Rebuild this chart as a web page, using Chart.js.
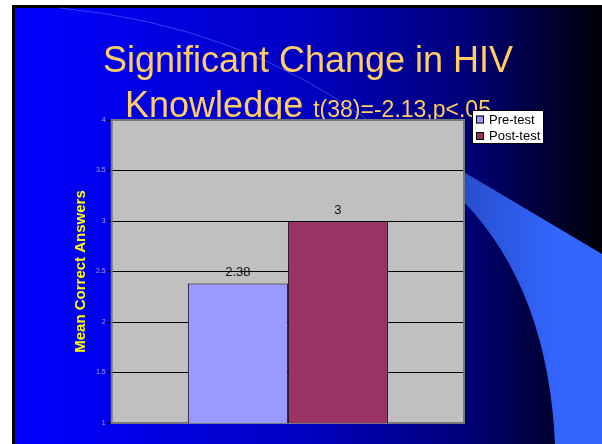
<!DOCTYPE html>
<html>
<head>
<meta charset="utf-8">
<script src="https://cdn.jsdelivr.net/npm/chart.js@4"></script>
<style>
  html, body { margin: 0; padding: 0; background: #fff; }
</style>
</head>
<body>
<canvas id="myChart" width="602" height="444"></canvas>
<script>
const categories = [''];
const seriesNames = ['Pre-test', 'Post-test'];
const preTest = [2.38];
const postTest = [3];
const yTicks = [1, 1.5, 2, 2.5, 3, 3.5, 4];
const titleLine1 = 'Significant Change in HIV';
const titleLine2 = 'Knowledge';
const titleStat = 't(38)=-2.13,p<.05';
const yTitle = 'Mean Correct Answers';

const family = '"Liberation Sans", Arial, sans-serif';

// slide background, decoration, title and the grey plot area
const slide = {
  id: 'slide',
  beforeDraw(chart) {
    const c = chart.ctx, w = chart.width, h = chart.height;
    const a = chart.chartArea;
    c.save();
    c.fillStyle = '#fff';
    c.fillRect(0, 0, w, h);
    c.fillStyle = '#000';
    c.fillRect(12, 5, w - 12, h - 5);
    const g = c.createLinearGradient(15, 0, w, 0);
    g.addColorStop(0, '#0000ff');
    g.addColorStop(0.15, '#0000ee');
    g.addColorStop(0.5, '#0000c0');
    g.addColorStop(0.77, '#000078');
    g.addColorStop(1, '#000006');
    c.fillStyle = g;
    c.fillRect(15, 8, w - 15, h - 8);

    // swoosh on the right
    const sg = c.createLinearGradient(440, 0, 560, 0);
    sg.addColorStop(0, '#2548c0');
    sg.addColorStop(1, '#3366ff');
    c.fillStyle = sg;
    c.beginPath();
    c.moveTo(430, 152);
    c.lineTo(w, 254);
    c.lineTo(w, h);
    c.lineTo(555, h);
    c.quadraticCurveTo(548, 290, 464, 202);
    c.lineTo(430, 160);
    c.closePath();
    c.fill();

    // thin arc line
    c.strokeStyle = 'rgba(110,140,255,0.6)';
    c.lineWidth = 0.8;
    c.beginPath();
    c.moveTo(60, 8);
    c.quadraticCurveTo(240, 25, 375, 125);
    c.stroke();

    // title
    c.fillStyle = '#ffcc66';
    c.textBaseline = 'alphabetic';
    c.textAlign = 'center';
    c.font = '36px ' + family;
    c.fillText(titleLine1, 308, 72);
    c.textAlign = 'left';
    const w1 = c.measureText(titleLine2 + ' ').width;
    c.font = '23px ' + family;
    const w2 = c.measureText(titleStat).width;
    const x0 = 308 - (w1 + w2) / 2;
    c.font = '36px ' + family;
    c.fillText(titleLine2, x0, 117);
    c.font = '23px ' + family;
    c.fillText(titleStat, x0 + w1, 117);

    c.fillStyle = '#c0c0c0';
    c.fillRect(a.left, a.top, a.right - a.left, a.bottom - a.top);
    c.restore();
  },
  beforeDatasetsDraw(chart) {
    const c = chart.ctx, a = chart.chartArea;
    c.save();
    c.strokeStyle = '#777';
    c.lineWidth = 2;
    c.strokeRect(a.left, a.top, a.right - a.left, a.bottom - a.top);
    c.restore();
  },
  afterDatasetsDraw(chart) {
    const c = chart.ctx;
    c.save();
    c.fillStyle = '#111';
    c.font = '13px ' + family;
    c.textAlign = 'center';
    c.textBaseline = 'middle';
    chart.data.datasets.forEach((ds, i) => {
      chart.getDatasetMeta(i).data.forEach((el, j) => {
        c.fillText(String(ds.data[j]), el.x, el.y - 11);
      });
    });
    c.restore();
  },
  afterDraw(chart) {
    // legend box right of the plot
    const c = chart.ctx, a = chart.chartArea;
    const left = a.right + 8, top = a.top - 10;
    c.save();
    c.font = '13px ' + family;
    let tw = 0;
    chart.data.datasets.forEach(ds => { tw = Math.max(tw, c.measureText(ds.label).width); });
    const bw = Math.round(17 + tw + 4), bh = 34;
    c.fillStyle = '#fff';
    c.fillRect(left, top, bw, bh);
    c.strokeStyle = '#000';
    c.lineWidth = 1;
    c.strokeRect(left + 0.5, top + 0.5, bw - 1, bh - 1);
    c.textBaseline = 'middle';
    chart.data.datasets.forEach((ds, i) => {
      const cy = top + 9.5 + i * 16.5;
      c.fillStyle = ds.backgroundColor;
      c.fillRect(left + 4, cy - 4, 8, 8);
      c.strokeStyle = '#000';
      c.strokeRect(left + 4.5, cy - 3.5, 7, 7);
      c.fillStyle = '#000';
      c.fillText(ds.label, left + 17, cy + 0.5);
    });
    c.restore();
  }
};

const ctx = document.getElementById('myChart').getContext('2d');
const myChart = new Chart(ctx, {
  type: 'bar',
  data: {
    labels: categories,
    datasets: [{
      label: seriesNames[0],
      data: preTest,
      backgroundColor: '#9999ff',
      borderColor: '#000',
      borderWidth: 1,
      categoryPercentage: 0.568,
      barPercentage: 1
    }, {
      label: seriesNames[1],
      data: postTest,
      backgroundColor: '#993366',
      borderColor: '#000',
      borderWidth: 1,
      categoryPercentage: 0.568,
      barPercentage: 1
    }]
  },
  options: {
    responsive: false,
    animation: false,
    layout: { padding: { left: 72, top: 120, right: 138, bottom: 21 } },
    plugins: {
      legend: { display: false },
      title: { display: false },
      tooltip: { enabled: false }
    },
    scales: {
      x: { display: false },
      y: {
        min: 1,
        max: 4,
        afterBuildTicks: s => { s.ticks = yTicks.map(v => ({ value: v })); },
        grid: { color: '#000', lineWidth: 1, tickLength: 4, tickColor: '#000' },
        border: { display: false },
        ticks: {
          color: '#a0a0ff',
          font: { size: 7, family: family },
          padding: 2,
          callback: v => String(v)
        },
        title: {
          display: true,
          text: yTitle,
          color: '#ffff00',
          font: { size: 15, weight: 'bold', family: family },
          padding: { top: 0, bottom: 4 }
        }
      }
    }
  },
  plugins: [slide]
});
</script>
</body>
</html>
